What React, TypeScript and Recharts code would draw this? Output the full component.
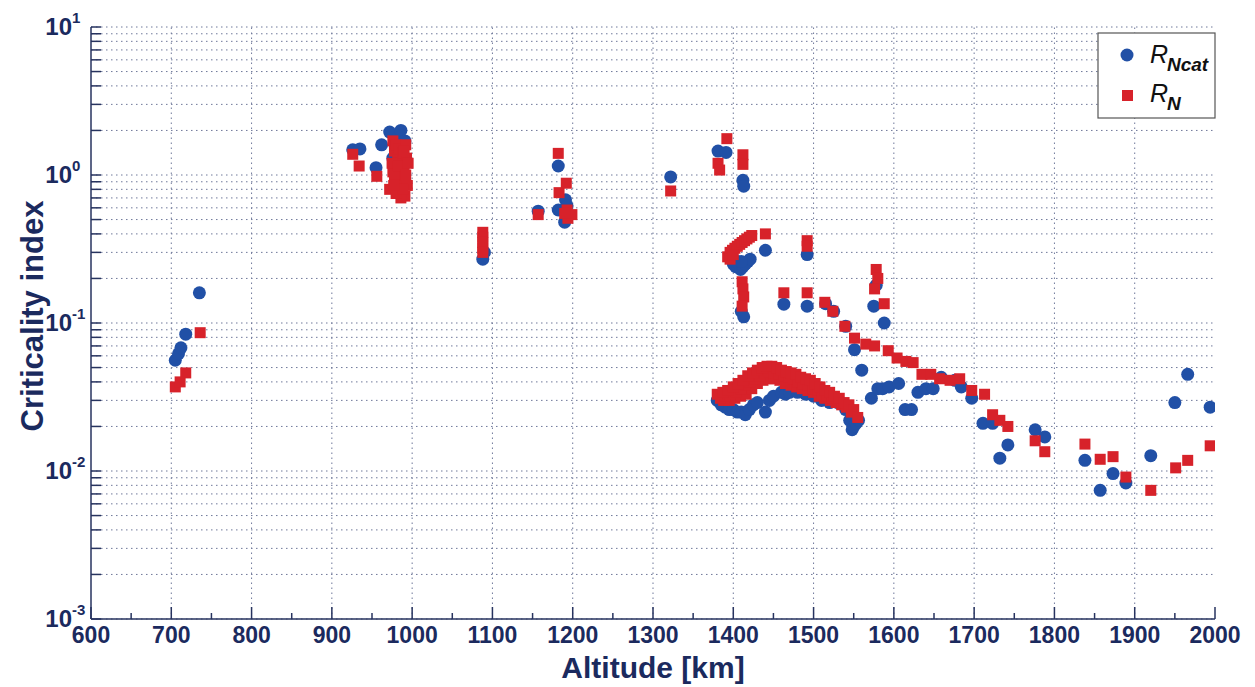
import React from 'react';
import { ScatterChart, Scatter, XAxis, YAxis, CartesianGrid, ReferenceLine } from 'recharts';

// altitude [km], criticality index
const rNcatPoints: [number, number][] = [
  [705, 0.056], [709, 0.062], [712, 0.068], [718, 0.084], [735, 0.16],
  [926, 1.48], [935, 1.5], [955, 1.12], [962, 1.6], [972, 1.95], [976, 1.3], [980, 1.75], [986, 2.0], [991, 1.7], [988, 1.2],
  [1088, 0.27], [1090, 0.3],
  [1157, 0.57], [1182, 1.15], [1182, 0.58], [1191, 0.68], [1194, 0.54], [1190, 0.48], [1193, 0.62],
  [1322, 0.97], [1381, 1.45], [1391, 1.42], [1412, 0.92], [1413, 0.84],
  [1398, 0.27], [1400, 0.25], [1403, 0.24], [1406, 0.24], [1409, 0.23], [1412, 0.24], [1415, 0.25], [1418, 0.26], [1421, 0.27], [1405, 0.26], [1410, 0.26],
  [1440, 0.31], [1410, 0.12], [1413, 0.11], [1463, 0.134], [1492, 0.29], [1492, 0.13], [1515, 0.135], [1525, 0.12], [1540, 0.095],
  [1551, 0.066], [1560, 0.048], [1578, 0.18], [1575, 0.13], [1588, 0.1], [1572, 0.031], [1580, 0.036], [1586, 0.036], [1594, 0.037],
  [1606, 0.039], [1614, 0.026], [1622, 0.026], [1630, 0.034], [1640, 0.036], [1649, 0.036], [1659, 0.043], [1676, 0.041], [1684, 0.037],
  [1697, 0.031], [1711, 0.021], [1723, 0.021], [1732, 0.0122], [1742, 0.015], [1776, 0.019], [1788, 0.017], [1838, 0.0118],
  [1857, 0.0074], [1873, 0.0096], [1889, 0.0083], [1920, 0.0127], [1950, 0.029], [1966, 0.045], [1994, 0.027],
];

// lower arc of RNcat between 1380 and 1556 km
const rNcatArc: [number, number][] = [
  [1380, 0.030], [1385, 0.028], [1390, 0.027], [1395, 0.026], [1400, 0.026], [1405, 0.025], [1410, 0.025], [1415, 0.024],
  [1420, 0.026], [1425, 0.028], [1430, 0.029], [1440, 0.025], [1445, 0.030], [1450, 0.032], [1460, 0.034], [1465, 0.033],
  [1470, 0.034], [1480, 0.034], [1490, 0.033], [1500, 0.032], [1510, 0.030], [1520, 0.029], [1530, 0.029], [1540, 0.026],
  [1545, 0.022], [1548, 0.019], [1550, 0.020], [1553, 0.021], [1556, 0.022],
];

const rNPoints: [number, number][] = [
  [705, 0.037], [711, 0.040], [718, 0.046], [736, 0.086],
  [926, 1.38], [934, 1.15], [956, 0.98], [972, 0.8],
  [976, 1.7], [978, 1.45], [980, 1.6], [982, 1.3], [984, 1.5], [986, 1.2], [988, 1.4], [990, 1.1], [976, 1.05], [979, 0.9],
  [981, 0.95], [983, 0.85], [985, 0.78], [987, 1.0], [989, 0.92], [991, 0.72], [986, 0.7], [980, 0.75], [993, 1.3], [992, 1.6], [994, 0.85],
  [975, 1.2], [978, 1.0], [983, 1.15], [988, 0.8], [992, 1.0], [995, 1.2], [977, 0.85], [990, 1.45],
  [1088, 0.41], [1088, 0.38], [1088, 0.35], [1088, 0.32], [1088, 0.3],
  [1157, 0.54], [1182, 1.4], [1183, 0.76], [1192, 0.88], [1193, 0.58], [1194, 0.51], [1199, 0.54], [1190, 0.55],
  [1322, 0.78], [1381, 1.2], [1383, 1.08], [1392, 1.76], [1412, 1.37], [1412, 1.18],
  [1393, 0.28], [1396, 0.30], [1399, 0.31], [1402, 0.32], [1405, 0.33], [1408, 0.34], [1411, 0.35], [1414, 0.36], [1417, 0.37],
  [1420, 0.38], [1423, 0.39], [1396, 0.27], [1400, 0.29],
  [1440, 0.40], [1411, 0.19], [1412, 0.17], [1413, 0.15], [1411, 0.13],
  [1463, 0.16], [1492, 0.36], [1492, 0.33], [1492, 0.16], [1514, 0.138], [1524, 0.12], [1539, 0.095], [1551, 0.079], [1565, 0.072],
  [1576, 0.07], [1578, 0.23], [1580, 0.2], [1576, 0.17], [1588, 0.135], [1593, 0.065], [1604, 0.058], [1615, 0.055], [1624, 0.054],
  [1635, 0.045], [1646, 0.045], [1657, 0.042], [1670, 0.041], [1682, 0.042], [1697, 0.035], [1713, 0.033], [1723, 0.024],
  [1732, 0.022], [1742, 0.020], [1776, 0.016], [1788, 0.0135], [1838, 0.0152], [1857, 0.012], [1873, 0.0125], [1889, 0.0091],
  [1920, 0.0074], [1951, 0.0105], [1966, 0.0118], [1994, 0.0148],
];

// dense RN arc: upper edge, middle and lower edge of the band
const rNArcTop: [number, number][] = [
  [1380, 0.033], [1387, 0.034], [1393, 0.035], [1400, 0.037], [1406, 0.039], [1412, 0.041], [1418, 0.044], [1424, 0.046],
  [1430, 0.048], [1436, 0.050], [1442, 0.051], [1448, 0.051], [1454, 0.050], [1460, 0.048], [1466, 0.047], [1472, 0.046],
  [1478, 0.045], [1484, 0.043], [1490, 0.042], [1496, 0.041], [1502, 0.039], [1508, 0.037], [1514, 0.035], [1520, 0.034],
  [1526, 0.032], [1532, 0.031], [1538, 0.029], [1544, 0.028], [1550, 0.026], [1555, 0.023],
];
const rNArcMid: [number, number][] = [
  [1384, 0.031], [1390, 0.032], [1396, 0.033], [1403, 0.034], [1409, 0.036], [1415, 0.038], [1421, 0.040], [1427, 0.042],
  [1433, 0.044], [1439, 0.046], [1445, 0.047], [1451, 0.046], [1457, 0.045], [1463, 0.044], [1469, 0.043], [1475, 0.042],
  [1481, 0.040], [1487, 0.039], [1493, 0.038], [1499, 0.036], [1505, 0.035], [1511, 0.033], [1517, 0.032], [1523, 0.031],
  [1529, 0.030], [1535, 0.028], [1541, 0.027], [1547, 0.025],
];
const rNArcLow: [number, number][] = [
  [1388, 0.030], [1395, 0.030], [1402, 0.031], [1409, 0.032], [1416, 0.033], [1423, 0.036], [1430, 0.039], [1437, 0.041],
  [1444, 0.042], [1451, 0.042], [1458, 0.041], [1465, 0.039], [1472, 0.038], [1479, 0.037], [1486, 0.036], [1493, 0.035],
  [1500, 0.034], [1507, 0.032], [1514, 0.031], [1521, 0.030], [1528, 0.029],
];

const xTicks = [600, 650, 700, 750, 800, 850, 900, 950, 1000, 1050, 1100, 1150, 1200, 1250, 1300, 1350, 1400, 1450, 1500, 1550, 1600, 1650, 1700, 1750, 1800, 1850, 1900, 1950, 2000];
const xGrid = [700, 800, 900, 1000, 1100, 1200, 1300, 1400, 1500, 1600, 1700, 1800, 1900];
const yTicks = [
  0.001, 0.002, 0.003, 0.004, 0.005, 0.006, 0.007, 0.008, 0.009,
  0.01, 0.02, 0.03, 0.04, 0.05, 0.06, 0.07, 0.08, 0.09,
  0.1, 0.2, 0.3, 0.4, 0.5, 0.6, 0.7, 0.8, 0.9,
  1, 2, 3, 4, 5, 6, 7, 8, 9, 10,
];
const decades: Record<string, string> = { '0.001': '-3', '0.01': '-2', '0.1': '-1', '1': '0', '10': '1' };

const PLOT_LEFT = 91;
const PLOT_RIGHT = 1215;
const PLOT_TOP = 27;
const PLOT_BOTTOM = 619;
const INK = '#1b2a5e';
const AXIS = '#27335f';
const GRID = '#6f789a';
const BLUE = '#2150a6';
const RED = '#d7222a';
const FONT = '"Liberation Sans", Arial, sans-serif';

const toXY = (pts: [number, number][]) => pts.map(([x, y]) => ({ x, y }));

const Dot = (props: any) => <circle cx={props.cx} cy={props.cy} r={6.5} fill={BLUE} />;
const Square = (props: any) => <rect x={props.cx - 5.5} y={props.cy - 5.5} width={11} height={11} fill={RED} />;

const BottomTick = ({ x, payload }: any) => {
  const major = payload.value % 100 === 0;
  return (
    <g>
      <line x1={x} x2={x} y1={PLOT_BOTTOM} y2={PLOT_BOTTOM - (major ? 12 : 6)} stroke={AXIS} strokeWidth={1.5} />
      {major && (
        <text x={x} y={PLOT_BOTTOM + 24} textAnchor="middle" fontFamily={FONT} fontWeight="bold" fontSize={23} fill={INK}>
          {payload.value}
        </text>
      )}
    </g>
  );
};

const TopTick = ({ x, payload }: any) => {
  const major = payload.value % 100 === 0;
  return <line x1={x} x2={x} y1={PLOT_TOP} y2={PLOT_TOP + (major ? 10 : 6)} stroke={AXIS} strokeWidth={1.5} />;
};

const LeftTick = ({ y, payload }: any) => {
  const exp = decades[String(payload.value)];
  return (
    <g>
      <line x1={PLOT_LEFT} x2={PLOT_LEFT + 10} y1={y} y2={y} stroke={AXIS} strokeWidth={1.5} />
      {exp !== undefined && (
        <g fontFamily={FONT} fontWeight="bold" fill={INK}>
          <text x={PLOT_LEFT - 19} y={y + 8} textAnchor="end" fontSize={24}>10</text>
          <text x={PLOT_LEFT - 19} y={y - 4} textAnchor="start" fontSize={15}>{exp}</text>
        </g>
      )}
    </g>
  );
};

const RightTick = ({ y }: any) => (
  <line x1={PLOT_RIGHT} x2={PLOT_RIGHT - 10} y1={y} y2={y} stroke={AXIS} strokeWidth={1.5} />
);

export default function App() {
  return (
    <div style={{ position: 'absolute', left: 0, top: 0, width: 1255, height: 687, background: '#fff' }}>
      <ScatterChart width={1255} height={687} margin={{ top: PLOT_TOP, right: 1255 - PLOT_RIGHT, left: 0, bottom: 0 }}>
        <CartesianGrid vertical={false} stroke={GRID} strokeDasharray="1.5 3.5" />
        {xGrid.map((v) => (
          <ReferenceLine key={v} x={v} stroke={GRID} strokeDasharray="1.5 3.5" />
        ))}
        <XAxis
          type="number"
          dataKey="x"
          domain={[600, 2000]}
          ticks={xTicks}
          interval={0}
          height={687 - PLOT_BOTTOM}
          allowDataOverflow
          tickLine={false}
          axisLine={{ stroke: AXIS, strokeWidth: 1.5 }}
          tick={<BottomTick />}
        />
        <XAxis
          xAxisId="top"
          orientation="top"
          type="number"
          domain={[600, 2000]}
          ticks={xTicks}
          interval={0}
          height={0}
          allowDataOverflow
          tickLine={false}
          axisLine={{ stroke: AXIS, strokeWidth: 1.5 }}
          tick={<TopTick />}
        />
        <YAxis
          type="number"
          dataKey="y"
          scale="log"
          domain={[0.001, 10]}
          ticks={yTicks}
          interval={0}
          width={PLOT_LEFT}
          allowDataOverflow
          tickLine={false}
          axisLine={{ stroke: AXIS, strokeWidth: 1.5 }}
          tick={<LeftTick />}
        />
        <YAxis
          yAxisId="right"
          orientation="right"
          type="number"
          scale="log"
          domain={[0.001, 10]}
          ticks={yTicks}
          interval={0}
          width={0}
          allowDataOverflow
          tickLine={false}
          axisLine={{ stroke: AXIS, strokeWidth: 1.5 }}
          tick={<RightTick />}
        />
        <Scatter data={toXY(rNcatArc)} shape={<Dot />} isAnimationActive={false} />
        <Scatter data={toXY(rNcatPoints)} shape={<Dot />} isAnimationActive={false} />
        <Scatter data={toXY(rNArcLow)} shape={<Square />} isAnimationActive={false} />
        <Scatter data={toXY(rNArcMid)} shape={<Square />} isAnimationActive={false} />
        <Scatter data={toXY(rNArcTop)} shape={<Square />} isAnimationActive={false} />
        <Scatter data={toXY(rNPoints)} shape={<Square />} isAnimationActive={false} />
      </ScatterChart>

      <svg width={1255} height={687} style={{ position: 'absolute', left: 0, top: 0, pointerEvents: 'none' }}>
        <g fontFamily={FONT} fontWeight="bold" fill={INK}>
          <text x={653} y={678} textAnchor="middle" fontSize={30}>Altitude [km]</text>
          <text x={43} y={316} textAnchor="middle" fontSize={31} transform="rotate(-90 43 316)">Criticality index</text>
        </g>
        <rect x={1098} y={33} width={117} height={85} fill="#fff" stroke="#555" strokeWidth={1.2} />
        <circle cx={1127} cy={55} r={6.5} fill={BLUE} />
        <rect x={1122} y={90} width={11} height={11} fill={RED} />
        <g fontFamily={FONT} fill="#111" fontStyle="italic">
          <text x={1150} y={63} fontSize={25}>R</text>
          <text x={1167} y={71} fontSize={19} fontWeight="bold">Ncat</text>
          <text x={1150} y={102} fontSize={25}>R</text>
          <text x={1167} y={110} fontSize={19} fontWeight="bold">N</text>
        </g>
      </svg>
    </div>
  );
}
